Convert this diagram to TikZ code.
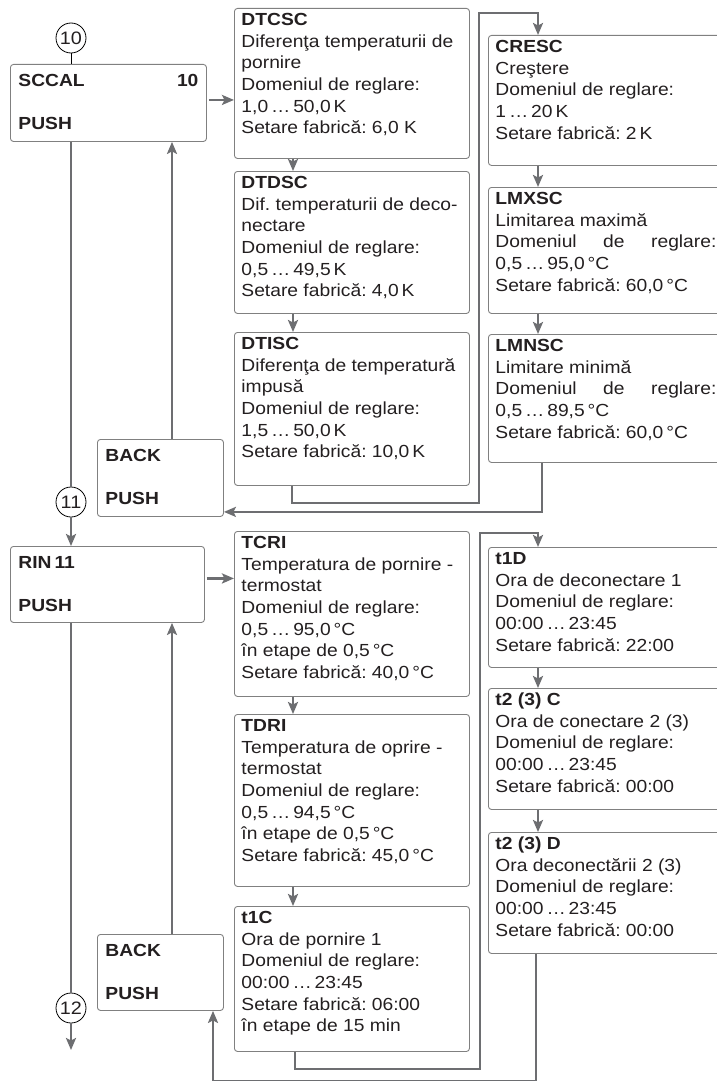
\documentclass[tikz,border=0pt]{standalone}
\usepackage{fontspec}
\setmainfont{Liberation Sans}[FakeStretch=1.1]
\usetikzlibrary{arrows.meta,calc}
\definecolor{framegray}{HTML}{808080}
\definecolor{wiregray}{HTML}{6D6E71}
\definecolor{ink}{HTML}{231F20}
\newcommand\panelfont{\fontsize{17.5}{21.7}\selectfont\frenchspacing}
% box text: [first line lift]{box height}{box width}{lines}
\newcommand\pane[4][13pt]{\parbox[c][\dimexpr#2pt-8pt\relax][t]{\dimexpr#3pt-14pt\relax}{\raggedright\rule{0pt}{#1}#4}}

\begin{document}
\begin{tikzpicture}[
  x=1pt, y=-1pt,
  panel/.style={draw=framegray, line width=0.9pt, rounded corners=3pt, anchor=north west,
                inner xsep=7pt, inner ysep=4pt, font=\panelfont, text=ink},
  menu/.style={panel, inner xsep=8pt, font=\panelfont\bfseries},
  jump/.style={circle, draw=black, line width=0.8pt, fill=white, minimum size=30pt,
               inner sep=0pt, font=\fontsize{18}{20}\selectfont, text=ink},
  link/.style={draw=wiregray, line width=2.4pt},
  arr/.style={link, -{Stealth[length=12pt, width=10pt, inset=2.5pt]}}
]
  \useasboundingbox (0,0) rectangle (716,1081);

  % Menu column
  \node[jump] (c10) at (71,38) {10};
  \node[menu] (sccal) at (10,64) {\pane[18pt]{77}{194}{SCCAL\hfill 10\\[\baselineskip]PUSH}};
  \node[menu] (back1) at (97,439) {\pane[18pt]{77}{124}{BACK\\[\baselineskip]PUSH}};
  \node[jump] (c11) at (71,502) {11};
  \node[menu] (rin) at (10,546) {\pane[18pt]{76}{192}{RIN\,11\\[\baselineskip]PUSH}};
  \node[menu] (back2) at (97,934) {\pane[18pt]{76}{124}{BACK\\[\baselineskip]PUSH}};
  \node[jump] (c12) at (71,1008) {12};
  \coordinate (exit) at (71,1050);

  % SCCAL parameters
  \node[panel] (dtcsc) at (234,8) {\pane{150}{235}{\textbf{DTCSC}\\
    Diferenţa temperaturii de\\ pornire\\ Domeniul de reglare:\\
    1,0\,…\,50,0\,K\\ Setare fabrică: 6,0 K}};
  \node[panel] (dtdsc) at (234,171) {\pane{142}{235}{\textbf{DTDSC}\\
    Dif. temperaturii de deco-\\ nectare\\ Domeniul de reglare:\\
    0,5\,…\,49,5\,K\\ Setare fabrică: 4,0\,K}};
  \node[panel] (dtisc) at (234,332) {\pane{153}{235}{\textbf{DTISC}\\
    Diferenţa de temperatură\\ impusă\\ Domeniul de reglare:\\
    1,5\,…\,50,0\,K\\ Setare fabrică: 10,0\,K}};
  \node[panel] (cresc) at (488,35) {\pane{130}{235}{\textbf{CRESC}\\
    Creştere\\ Domeniul de reglare:\\ 1\,…\,20\,K\\ Setare fabrică: 2\,K}};
  \node[panel] (lmxsc) at (488,187) {\pane{126}{235}{\textbf{LMXSC}\\
    Limitarea maximă\\ Domeniul\hfill de\hfill reglare:\\
    0,5\,…\,95,0\,°C\\ Setare fabrică: 60,0\,°C}};
  \node[panel] (lmnsc) at (488,334) {\pane{128}{235}{\textbf{LMNSC}\\
    Limitare minimă\\ Domeniul\hfill de\hfill reglare:\\
    0,5\,…\,89,5\,°C\\ Setare fabrică: 60,0\,°C}};

  % RIN parameters
  \node[panel] (tcri) at (234,531) {\pane{165}{235}{\textbf{TCRI}\\
    Temperatura de pornire -\\ termostat\\ Domeniul de reglare:\\
    0,5\,…\,95,0\,°C\\ în etape de 0,5\,°C\\ Setare fabrică: 40,0\,°C}};
  \node[panel] (tdri) at (234,714) {\pane{172}{235}{\textbf{TDRI}\\
    Temperatura de oprire -\\ termostat\\ Domeniul de reglare:\\
    0,5\,…\,94,5\,°C\\ în etape de 0,5\,°C\\ Setare fabrică: 45,0\,°C}};
  \node[panel] (t1c) at (234,906) {\pane{145}{235}{\textbf{t1C}\\
    Ora de pornire 1\\ Domeniul de reglare:\\ 00:00\,…\,23:45\\
    Setare fabrică: 06:00\\ în etape de 15 min}};
  \node[panel] (t1d) at (488,547) {\pane{120}{235}{\textbf{t1D}\\
    Ora de deconectare 1\\ Domeniul de reglare:\\ 00:00\,…\,23:45\\
    Setare fabrică: 22:00}};
  \node[panel] (t2c) at (488,688) {\pane{121}{235}{\textbf{t2 (3) C}\\
    Ora de conectare 2 (3)\\ Domeniul de reglare:\\ 00:00\,…\,23:45\\
    Setare fabrică: 00:00}};
  \node[panel] (t2d) at (488,832) {\pane{121}{235}{\textbf{t2 (3) D}\\
    Ora deconectării 2 (3)\\ Domeniul de reglare:\\ 00:00\,…\,23:45\\
    Setare fabrică: 00:00}};

  % Main line
  \draw[line width=0.8pt] (c10.south) -- (c10 |- sccal.north);
  \draw[link] (c10 |- sccal.south) -- (c11.north);
  \draw[arr] (c11.south) -- (c11 |- rin.north);
  \draw[link] (c11 |- rin.south) -- (c12.north);
  \draw[arr] (c12.south) -- (exit);
  \draw[arr] ([xshift=75pt]back1.north west) -- ([xshift=75pt]back1.north west |- sccal.south);
  \draw[arr] ([xshift=75pt]back2.north west) -- ([xshift=75pt]back2.north west |- rin.south);
  \draw[arr] ([xshift=2pt,yshift=3pt]sccal.east) -- ([yshift=3pt]sccal.east -| dtcsc.west);
  \draw[arr] ([xshift=2pt,yshift=6pt]rin.east) -- ([yshift=6pt]rin.east -| tcri.west);

  % Steps
  \draw[arr] ([xshift=59pt]dtcsc.south west) -- ([xshift=59pt]dtdsc.north west);
  \draw[arr] ([xshift=59pt]dtdsc.south west) -- ([xshift=59pt]dtisc.north west);
  \draw[arr] ([xshift=50pt]cresc.south west) -- ([xshift=50pt]lmxsc.north west);
  \draw[arr] ([xshift=50pt]lmxsc.south west) -- ([xshift=50pt]lmnsc.north west);
  \draw[arr] ([xshift=59pt]tcri.south west) -- ([xshift=59pt]tdri.north west);
  \draw[arr] ([xshift=59pt]tdri.south west) -- ([xshift=59pt]t1c.north west);
  \draw[arr] ([xshift=50pt]t1d.south west) -- ([xshift=50pt]t2c.north west);
  \draw[arr] ([xshift=50pt]t2c.south west) -- ([xshift=50pt]t2d.north west);

  % Wrap-arounds
  \draw[arr] ([xshift=58pt]dtisc.south west) -- ++(0,17) -| (479,13) -| ([xshift=50pt]cresc.north west);
  \draw[arr] ([xshift=54pt]lmnsc.south west) |- ([yshift=5pt]back1.south east);
  \draw[arr] ([xshift=61pt]t1c.south west) -- ++(0,17) -| (480,533) -| ([xshift=50pt]t1d.north west);
  \draw[arr] ([xshift=48pt]t2d.south west) -- ++(0,127) -| ([xshift=116pt]back2.south west);
\end{tikzpicture}
\end{document}
